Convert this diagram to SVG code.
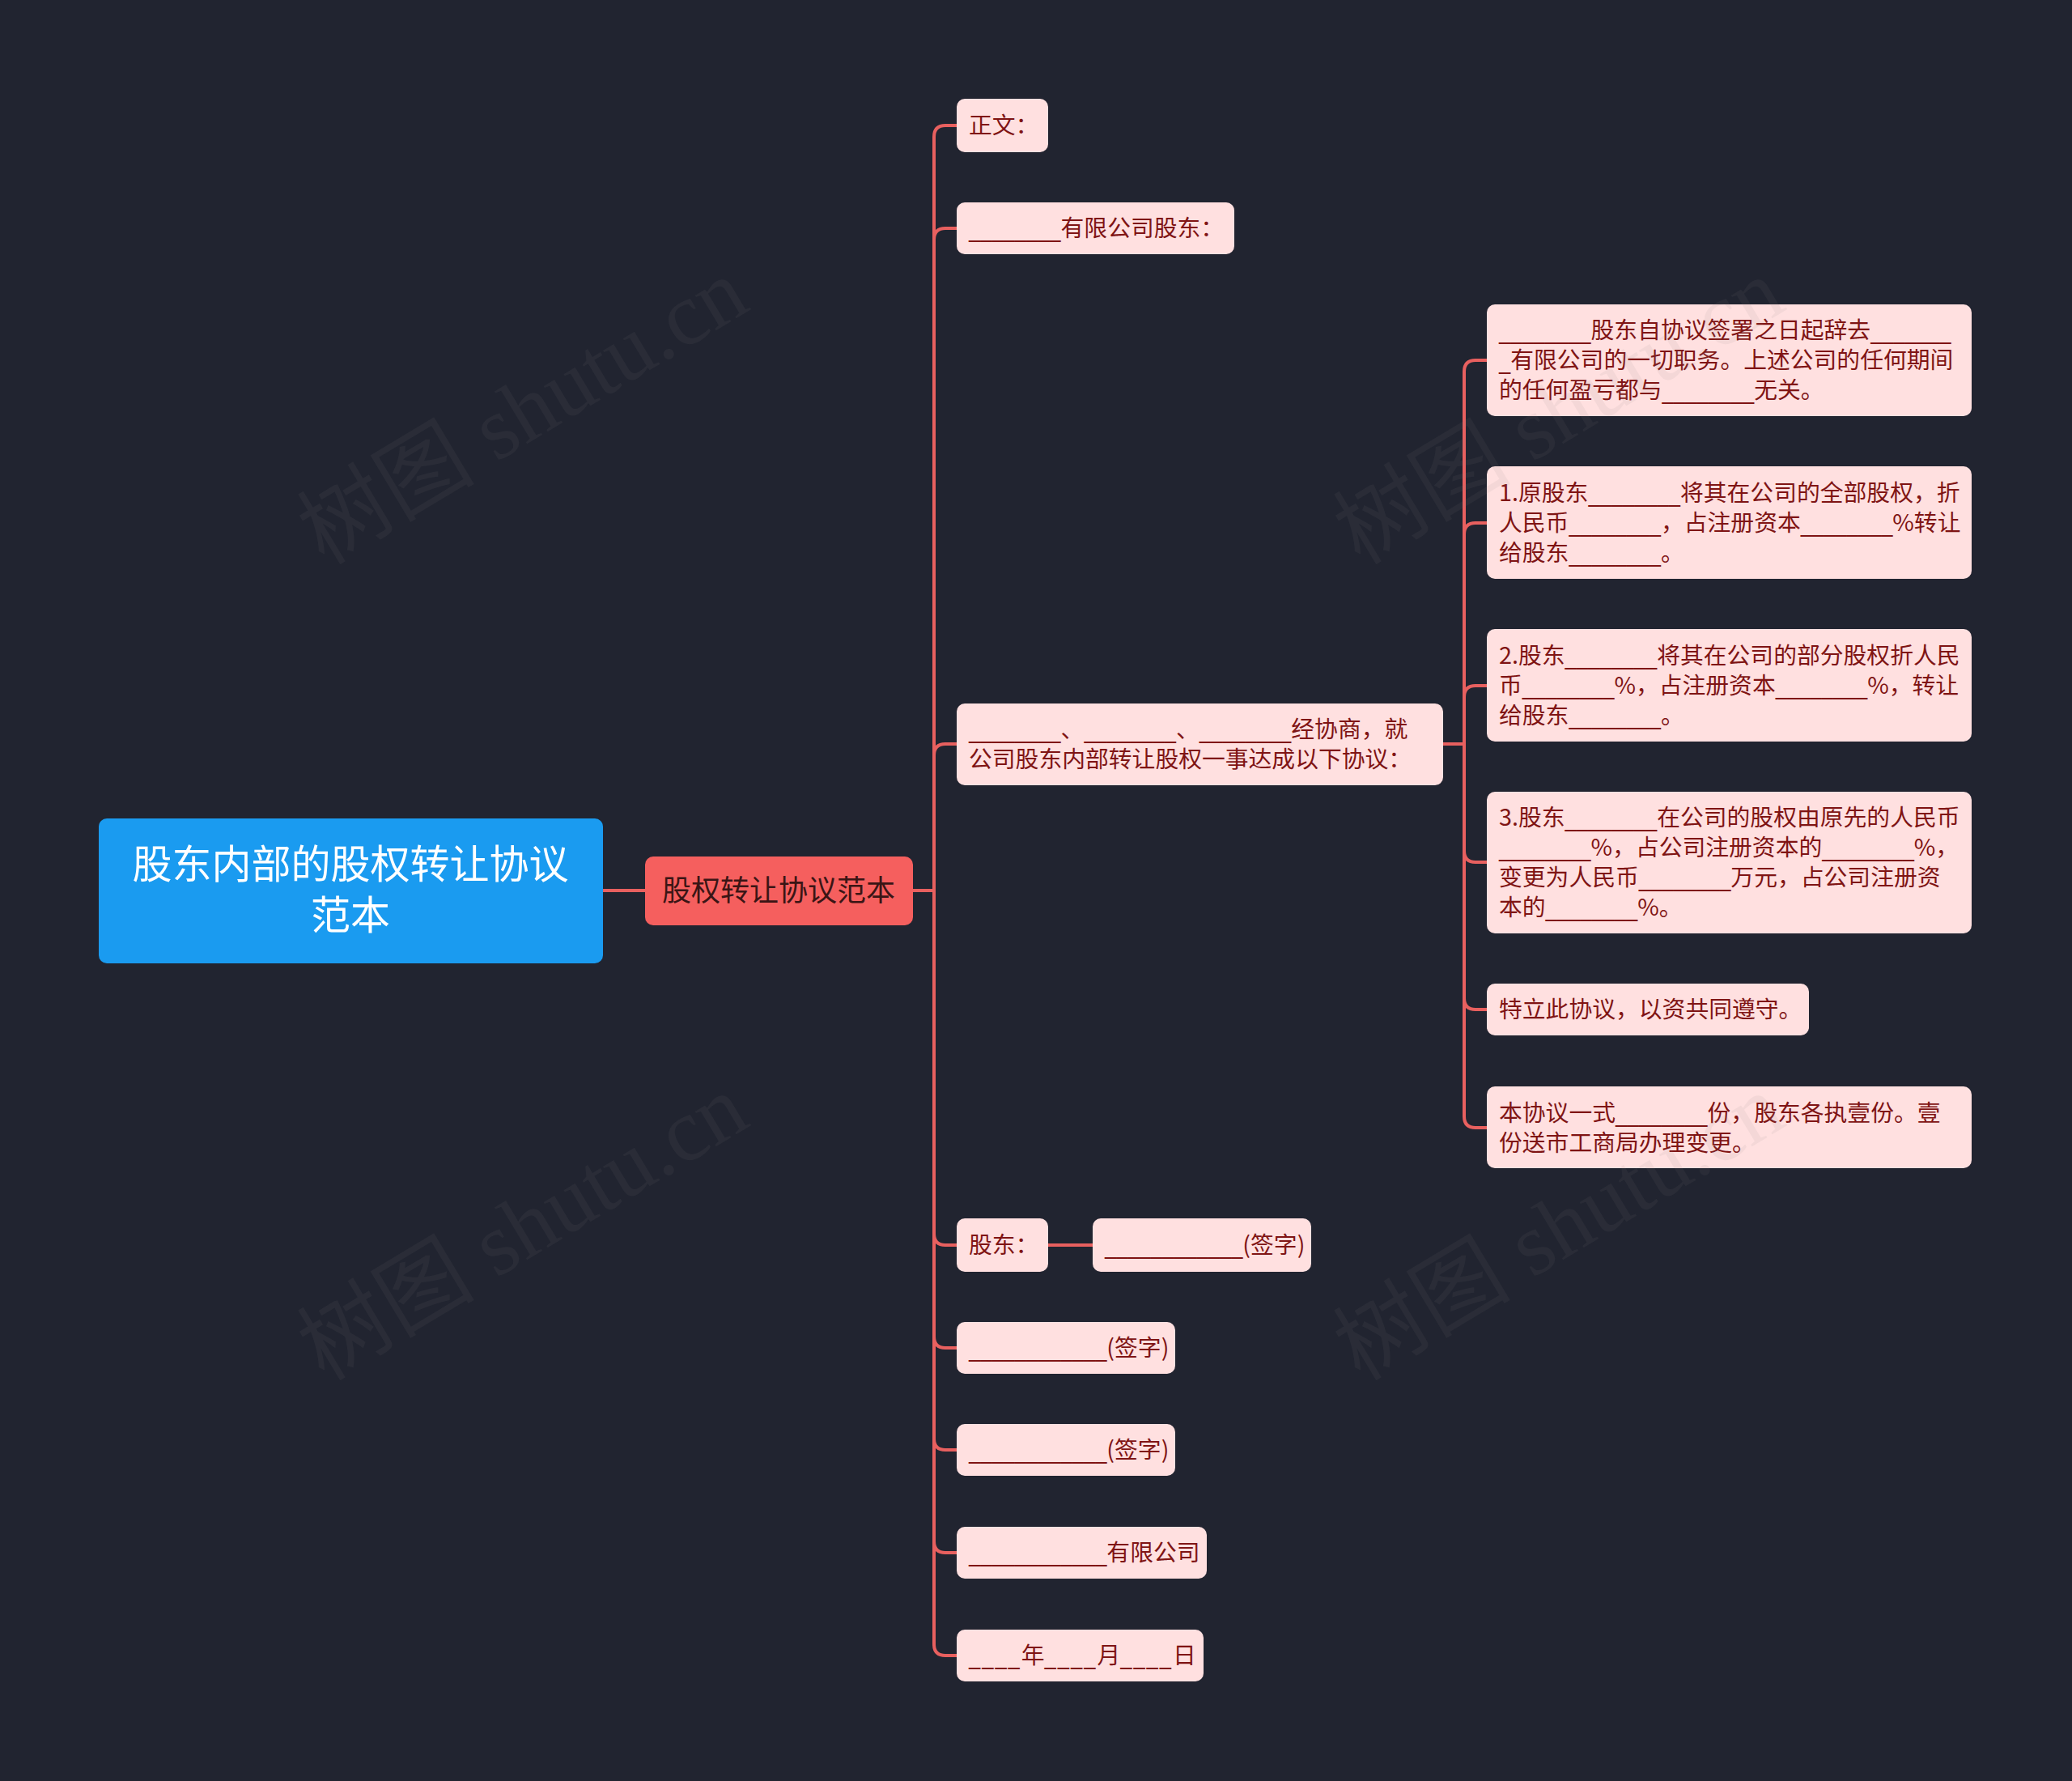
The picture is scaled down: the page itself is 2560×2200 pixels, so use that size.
<svg xmlns="http://www.w3.org/2000/svg" width="2560" height="2200" viewBox="0 0 2560 2200">
<style>
.bg{fill:#212430}
.conn{fill:none;stroke:#E8605F;stroke-width:4}
.leaf{fill:#FFE0E0}
.lt{font-family:"Noto Sans CJK SC","Noto Sans",sans-serif;font-size:28.8px;fill:#7f1414}
.u{font-family:"DejaVu Sans",sans-serif;font-size:28.4px}
.u4{font-family:"DejaVu Sans",sans-serif;font-size:28.4px;letter-spacing:2px}
.root{fill:#1A9BF0}
.rt{font-family:"Noto Sans CJK SC","Noto Sans",sans-serif;font-size:49px;fill:#ffffff;text-anchor:middle}
.main{fill:#F55F5E}
.mt{font-family:"Noto Sans CJK SC","Noto Sans",sans-serif;font-size:36px;fill:#3b1515;text-anchor:middle}
.wm{font-family:"Liberation Serif","Noto Sans CJK SC",serif;font-size:110px;fill:#808080;fill-opacity:0.09}
</style>
<rect class="bg" x="0" y="0" width="2560" height="2200"/>
<g id="connectors">
<path class="conn" d="M745 1100 H797"/>
<path class="conn" d="M1128 1100 H1154 V169 Q1154 155 1168 155 H1182"/>
<path class="conn" d="M1128 1100 H1154 V296 Q1154 282 1168 282 H1182"/>
<path class="conn" d="M1128 1100 H1154 V933 Q1154 919 1168 919 H1182"/>
<path class="conn" d="M1128 1100 H1154 V1524 Q1154 1538 1168 1538 H1182"/>
<path class="conn" d="M1128 1100 H1154 V1651 Q1154 1665 1168 1665 H1182"/>
<path class="conn" d="M1128 1100 H1154 V1777 Q1154 1791 1168 1791 H1182"/>
<path class="conn" d="M1128 1100 H1154 V1904 Q1154 1918 1168 1918 H1182"/>
<path class="conn" d="M1128 1100 H1154 V2031 Q1154 2045 1168 2045 H1182"/>
<path class="conn" d="M1295 1538 H1350"/>
<path class="conn" d="M1783 919 H1809 V459 Q1809 445 1823 445 H1837"/>
<path class="conn" d="M1783 919 H1809 V660 Q1809 646 1823 646 H1837"/>
<path class="conn" d="M1783 919 H1809 V861 Q1809 847 1823 847 H1837"/>
<path class="conn" d="M1783 919 H1809 V1051 Q1809 1065 1823 1065 H1837"/>
<path class="conn" d="M1783 919 H1809 V1233 Q1809 1247 1823 1247 H1837"/>
<path class="conn" d="M1783 919 H1809 V1379 Q1809 1393 1823 1393 H1837"/>
</g>
<g id="root">
<rect class="root" x="122" y="1011" width="623" height="179" rx="10"/>
<text class="rt"><tspan x="433" y="1085">股东内部的股权转让协议</tspan><tspan x="433" y="1148">范本</tspan></text>
</g>
<g id="main">
<rect class="main" x="797" y="1058" width="331" height="85" rx="10"/>
<text class="mt" x="962" y="1113">股权转让协议范本</text>
</g>
<g id="n1">
<rect class="leaf" x="1182" y="122" width="113" height="66" rx="10"/>
<text class="lt" x="1197" y="165">正文：</text>
</g>
<g id="n2">
<rect class="leaf" x="1182" y="250" width="343" height="64" rx="10"/>
<text class="lt" x="1197" y="292"><tspan class="u">________</tspan>有限公司股东：</text>
</g>
<g id="n3">
<rect class="leaf" x="1182" y="869" width="601" height="101" rx="10"/>
<text class="lt" x="1197" y="911"><tspan class="u">________</tspan>、<tspan class="u">________</tspan>、<tspan class="u">________</tspan>经协商，就</text>
<text class="lt" x="1197" y="948">公司股东内部转让股权一事达成以下协议：</text>
</g>
<g id="n3a">
<rect class="leaf" x="1837" y="376" width="599" height="138" rx="10"/>
<text class="lt" x="1852" y="418"><tspan class="u">________</tspan>股东自协议签署之日起辞去<tspan class="u">_______</tspan></text>
<text class="lt" x="1852" y="455"><tspan class="u">_</tspan>有限公司的一切职务。上述公司的任何期间</text>
<text class="lt" x="1852" y="492">的任何盈亏都与<tspan class="u">________</tspan>无关。</text>
</g>
<g id="n3b">
<rect class="leaf" x="1837" y="576" width="599" height="139" rx="10"/>
<text class="lt" x="1852" y="619">1.原股东<tspan class="u">________</tspan>将其在公司的全部股权，折</text>
<text class="lt" x="1852" y="656">人民币<tspan class="u">________</tspan>，占注册资本<tspan class="u">________</tspan>%转让</text>
<text class="lt" x="1852" y="693">给股东<tspan class="u">________</tspan>。</text>
</g>
<g id="n3c">
<rect class="leaf" x="1837" y="777" width="599" height="139" rx="10"/>
<text class="lt" x="1852" y="820">2.股东<tspan class="u">________</tspan>将其在公司的部分股权折人民</text>
<text class="lt" x="1852" y="857">币<tspan class="u">________</tspan>%，占注册资本<tspan class="u">________</tspan>%，转让</text>
<text class="lt" x="1852" y="894">给股东<tspan class="u">________</tspan>。</text>
</g>
<g id="n3d">
<rect class="leaf" x="1837" y="978" width="599" height="175" rx="10"/>
<text class="lt" x="1852" y="1020">3.股东<tspan class="u">________</tspan>在公司的股权由原先的人民币</text>
<text class="lt" x="1852" y="1057"><tspan class="u">________</tspan>%，占公司注册资本的<tspan class="u">________</tspan>%，</text>
<text class="lt" x="1852" y="1094">变更为人民币<tspan class="u">________</tspan>万元，占公司注册资</text>
<text class="lt" x="1852" y="1131">本的<tspan class="u">________</tspan>%。</text>
</g>
<g id="n3e">
<rect class="leaf" x="1837" y="1215" width="398" height="64" rx="10"/>
<text class="lt" x="1852" y="1257">特立此协议，以资共同遵守。</text>
</g>
<g id="n3f">
<rect class="leaf" x="1837" y="1342" width="599" height="101" rx="10"/>
<text class="lt" x="1852" y="1385">本协议一式<tspan class="u">________</tspan>份，股东各执壹份。壹</text>
<text class="lt" x="1852" y="1422">份送市工商局办理变更。</text>
</g>
<g id="n4">
<rect class="leaf" x="1182" y="1505" width="113" height="66" rx="10"/>
<text class="lt" x="1197" y="1548">股东：</text>
</g>
<g id="n4a">
<rect class="leaf" x="1350" y="1505" width="270" height="66" rx="10"/>
<text class="lt" x="1365" y="1548"><tspan class="u">____________</tspan>(签字)</text>
</g>
<g id="n5">
<rect class="leaf" x="1182" y="1633" width="270" height="64" rx="10"/>
<text class="lt" x="1197" y="1675"><tspan class="u">____________</tspan>(签字)</text>
</g>
<g id="n6">
<rect class="leaf" x="1182" y="1759" width="270" height="64" rx="10"/>
<text class="lt" x="1197" y="1801"><tspan class="u">____________</tspan>(签字)</text>
</g>
<g id="n7">
<rect class="leaf" x="1182" y="1886" width="309" height="64" rx="10"/>
<text class="lt" x="1197" y="1928"><tspan class="u">____________</tspan>有限公司</text>
</g>
<g id="n8">
<rect class="leaf" x="1182" y="2013" width="305" height="64" rx="10"/>
<text class="lt" x="1197" y="2055"><tspan class="u4">____</tspan>年<tspan class="u4">____</tspan>月<tspan class="u4">____</tspan>日</text>
</g>
<g id="watermarks">
<text class="wm" x="647" y="545" text-anchor="middle" transform="rotate(-31 647 510)">树图 shutu.cn</text>
<text class="wm" x="647" y="1553" text-anchor="middle" transform="rotate(-31 647 1518)">树图 shutu.cn</text>
<text class="wm" x="1927" y="545" text-anchor="middle" transform="rotate(-31 1927 510)">树图 shutu.cn</text>
<text class="wm" x="1927" y="1553" text-anchor="middle" transform="rotate(-31 1927 1518)">树图 shutu.cn</text>
</g>
</svg>
